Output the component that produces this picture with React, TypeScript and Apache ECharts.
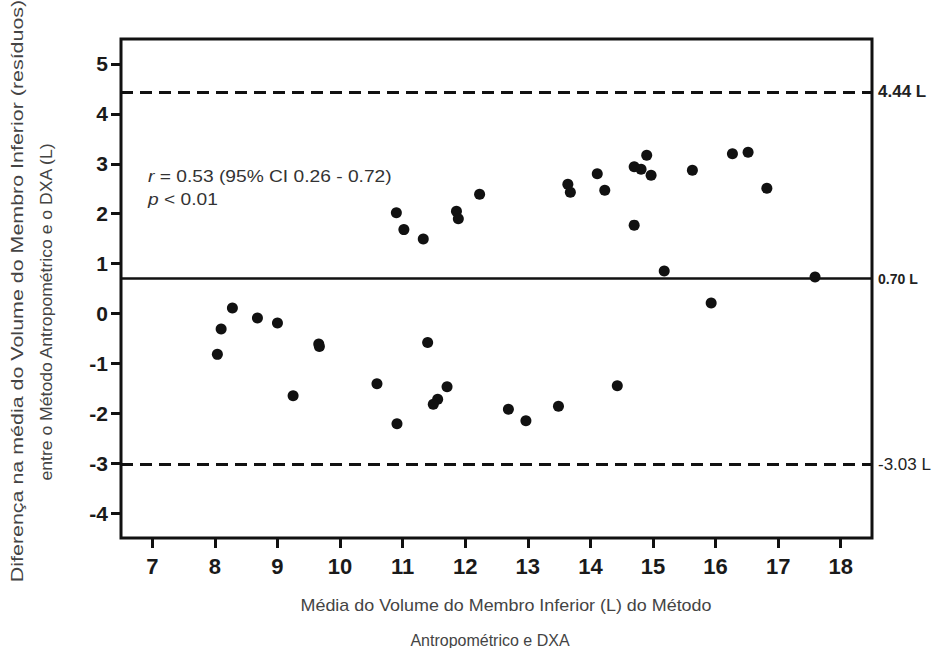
import React, { useEffect, useRef } from "react";
import * as echarts from "echarts";

const xTicks = [7, 8, 9, 10, 11, 12, 13, 14, 15, 16, 17, 18];
const yTicks = [-4, -3, -2, -1, 0, 1, 2, 3, 4, 5];

const meanX = [
  8.28, 8.10, 8.68, 9.0, 8.04, 9.66, 9.67, 9.25, 11.40, 10.59, 11.71, 11.56, 11.49, 10.91,
  10.90, 11.02, 11.33, 11.86, 11.89, 12.23, 13.64, 13.68,
  12.69, 12.97, 13.49, 14.43,
  14.11, 14.23, 14.70, 14.81, 14.90, 14.97, 15.63, 16.27, 16.52, 16.82, 14.70, 15.18, 15.93, 17.59,
];
const diffY = [
  0.11, -0.31, -0.09, -0.19, -0.82, -0.61, -0.66, -1.65, -0.58, -1.41, -1.47, -1.72, -1.82, -2.21,
  2.02, 1.68, 1.49, 2.05, 1.90, 2.39, 2.59, 2.43,
  -1.92, -2.15, -1.86, -1.45,
  2.80, 2.47, 2.94, 2.89, 3.17, 2.77, 2.87, 3.20, 3.23, 2.51, 1.77, 0.85, 0.21, 0.73,
];

const meanBias = 0.7;
const upperLoA = 4.44;
const lowerLoA = -3.03;

const FONT = "Liberation Sans, Arial, sans-serif";

export default function App() {
  const ref = useRef<HTMLDivElement>(null);
  useEffect(() => {
    if (!ref.current) return;
    const chart = echarts.init(ref.current, undefined, { renderer: "svg" });
    const points = meanX.map((x, i) => [x, diffY[i]]);
    chart.setOption({
      animation: false,
      backgroundColor: "#ffffff",
      textStyle: { fontFamily: FONT },
      grid: {
        left: 121,
        right: 72,
        top: 39,
        bottom: 110,
        show: true,
        borderColor: "#111",
        borderWidth: 3,
        backgroundColor: "transparent",
      },
      xAxis: {
        type: "value",
        min: 6.5,
        max: 18.5,
        axisLine: { show: false, onZero: false },
        splitLine: { show: false },
        axisTick: {
          show: true,
          inside: false,
          length: 10,
          customValues: xTicks,
          lineStyle: { color: "#111", width: 3 },
        },
        axisLabel: {
          customValues: xTicks,
          margin: 17,
          color: "#1a1a1a",
          fontSize: 22,
          fontWeight: "bold",
          fontFamily: FONT,
        },
      },
      yAxis: {
        type: "value",
        min: -4.5,
        max: 5.5,
        axisLine: { show: false, onZero: false },
        splitLine: { show: false },
        axisTick: {
          show: true,
          inside: false,
          length: 10,
          customValues: yTicks,
          lineStyle: { color: "#111", width: 3 },
        },
        axisLabel: {
          customValues: yTicks,
          margin: 13,
          color: "#1a1a1a",
          fontSize: 21,
          fontWeight: "bold",
          fontFamily: FONT,
        },
      },
      series: [
        {
          type: "scatter",
          data: points,
          symbol: "circle",
          symbolSize: 11,
          itemStyle: { color: "#111", opacity: 1 },
          markLine: {
            silent: true,
            symbol: "none",
            data: [
              {
                yAxis: upperLoA,
                lineStyle: { type: [12, 7], width: 3, color: "#111" },
                label: {
                  formatter: upperLoA.toFixed(2) + " L",
                  fontSize: 17,
                  fontWeight: "bold",
                },
              },
              {
                yAxis: meanBias,
                lineStyle: { type: "solid", width: 2.5, color: "#111" },
                label: {
                  formatter: meanBias.toFixed(2) + " L",
                  fontSize: 14,
                  fontWeight: "bold",
                },
              },
              {
                yAxis: lowerLoA,
                lineStyle: { type: [12, 7], width: 3, color: "#111" },
                label: {
                  formatter: lowerLoA.toFixed(2) + " L",
                  fontSize: 17,
                  fontWeight: "normal",
                },
              },
            ],
            label: {
              show: true,
              position: "end",
              distance: 6,
              color: "#222",
              fontFamily: FONT,
            },
          },
        },
      ],
      graphic: [
        {
          type: "text",
          x: 148,
          y: 165,
          scaleX: 1.2,
          style: {
            text: "{i|r} = 0.53 (95% CI 0.26 - 0.72)\n{i|p} < 0.01",
            fontSize: 16,
            lineHeight: 23,
            fill: "#333",
            fontFamily: FONT,
            verticalAlign: "top",
            rich: {
              i: { fontStyle: "italic", fontSize: 16, fill: "#333", fontFamily: FONT },
            },
          },
        },
        {
          type: "text",
          x: 18,
          y: 291,
          rotation: Math.PI / 2,
          scaleX: 1.34,
          style: {
            text: "Diferença na média do Volume do Membro Inferior (resíduos)",
            fontSize: 16,
            fill: "#444",
            fontFamily: FONT,
            align: "center",
            verticalAlign: "middle",
          },
        },
        {
          type: "text",
          x: 47,
          y: 312,
          rotation: Math.PI / 2,
          scaleX: 1.1,
          style: {
            text: "entre o Método Antropométrico e o DXA (L)",
            fontSize: 16,
            fill: "#444",
            fontFamily: FONT,
            align: "center",
            verticalAlign: "middle",
          },
        },
        {
          type: "text",
          x: 506,
          y: 606,
          scaleX: 1.12,
          style: {
            text: "Média do Volume do Membro Inferior (L) do Método",
            fontSize: 16,
            fill: "#444",
            fontFamily: FONT,
            align: "center",
            verticalAlign: "middle",
          },
        },
        {
          type: "text",
          x: 490,
          y: 640,
          style: {
            text: "Antropométrico e DXA",
            fontSize: 16,
            fill: "#444",
            fontFamily: FONT,
            align: "center",
            verticalAlign: "middle",
          },
        },
      ],
    });
    return () => chart.dispose();
  }, []);
  return (
    <div
      ref={ref}
      style={{ position: "fixed", left: 0, top: 0, width: 944, height: 648 }}
    />
  );
}
